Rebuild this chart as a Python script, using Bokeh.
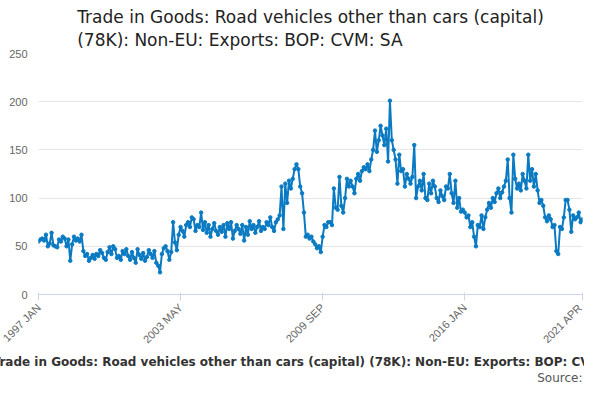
import math
from bokeh.plotting import figure
from bokeh.models import FixedTicker, Title
from bokeh.embed import file_html
from bokeh.resources import INLINE

y1997 = [55,57,58,56,62,50,53,64,51,50,49,57]
y1998 = [55,60,58,50,57,35,52,60,56,58,55,62]
y1999 = [45,40,42,35,38,41,37,42,40,46,43,38]
y2000 = [36,44,49,42,50,47,38,40,36,45,42,47]
y2001 = [40,36,44,38,33,47,41,37,43,35,39,46]
y2002 = [42,38,45,33,30,23,42,48,50,45,36,44]
y2003 = [75,54,46,62,70,66,60,72,75,70,80,78]
y2004 = [66,72,70,85,67,75,64,72,60,68,74,66]
y2005 = [62,70,65,72,60,74,68,75,58,66,72,68]
y2006 = [63,72,56,70,62,76,68,72,64,70,76,66]
y2007 = [70,68,75,72,80,70,66,75,78,82,112,68]
y2008 = [115,95,118,110,120,130,135,130,112,105,85,60]
y2009 = [62,58,60,55,52,48,50,44,60,72,70,75]
y2010 = [75,72,110,90,88,122,92,85,100,120,112,118]
y2011 = [112,105,120,125,118,128,132,130,135,128,140,150]
y2012 = [170,148,160,175,165,155,172,138,201,160,150,140]
y2013 = [115,145,128,130,112,125,120,115,122,155,100,112]
y2014 = [118,108,125,100,98,115,105,118,112,100,96,108]
y2015 = [102,98,112,110,125,105,95,118,90,100,86,88]
y2016 = [85,80,82,70,75,60,50,72,70,82,68,80]
y2017 = [88,95,90,100,96,105,110,100,106,112,118,140]
y2018 = [100,85,145,120,110,115,108,125,118,110,145,118]
y2019 = [130,112,125,108,95,98,92,80,76,82,78,70]
y2020 = [72,45,42,70,68,80,98,98,88,65,82,78]
y2021 = [80,85,75,78]

values = (y1997+y1998+y1999+y2000+y2001+y2002+y2003+y2004+y2005+y2006+y2007+y2008
          +y2009+y2010+y2011+y2012+y2013+y2014+y2015+y2016+y2017+y2018+y2019+y2020+y2021)
months = list(range(len(values)))
tick_pos = [0, 76, 152, 228, 291]
tick_labels = ["1997 JAN", "2003 MAY", "2009 SEP", "2016 JAN", "2021 APR"]
title_text = "Trade in Goods: Road vehicles other than cars (capital)\n(78K): Non-EU: Exports: BOP: CVM: SA"
caption = "Trade in Goods: Road vehicles other than cars (capital) (78K): Non-EU: Exports: BOP: CVM: SA"

p = figure(width=584, height=384, output_backend="svg", toolbar_location=None,
           x_range=(0, 291), y_range=(0, 250), min_border_left=38, min_border_right=2,
           min_border_top=0, min_border_bottom=0)
p.title = None
p.add_layout(Title(text=title_text, align="center", text_font_size="17px", text_font="DejaVu Sans",
                   text_font_style="normal", text_color="#222222", text_line_height=1.15,
                   standoff=8), "above")
p.add_layout(Title(text=caption, align="center", text_font_size="12px", text_font="DejaVu Sans",
                   text_font_style="bold", text_color="#333333", standoff=0), "below")
p.add_layout(Title(text="Source:", align="right", text_font_size="12px", text_font="DejaVu Sans",
                   text_font_style="normal", text_color="#555555", standoff=0), "below")

p.line(months, values, line_color="#0a7ac2", line_width=2)
p.scatter(months, values, size=3.5, color="#0a7ac2")

p.xaxis.ticker = FixedTicker(ticks=tick_pos)
p.xaxis.major_label_overrides = {k: v for k, v in zip(tick_pos, tick_labels)}
p.xaxis.major_label_orientation = math.pi / 4
p.xaxis.axis_line_color = "#ccd6eb"
p.xaxis.major_tick_line_color = "#ccd6eb"
p.xaxis.minor_tick_line_color = None
p.xaxis.major_label_text_color = "#666666"
p.xaxis.major_label_text_font_size = "11px"
p.yaxis.ticker = FixedTicker(ticks=[0, 50, 100, 150, 200, 250])
p.yaxis.axis_line_color = None
p.yaxis.major_tick_line_color = None
p.yaxis.minor_tick_line_color = None
p.yaxis.major_label_text_color = "#666666"
p.yaxis.major_label_text_font_size = "11px"
p.xgrid.grid_line_color = None
p.ygrid.grid_line_color = "#e6e6e6"
p.outline_line_color = None

open("out.html", "w").write(file_html(p, INLINE))
